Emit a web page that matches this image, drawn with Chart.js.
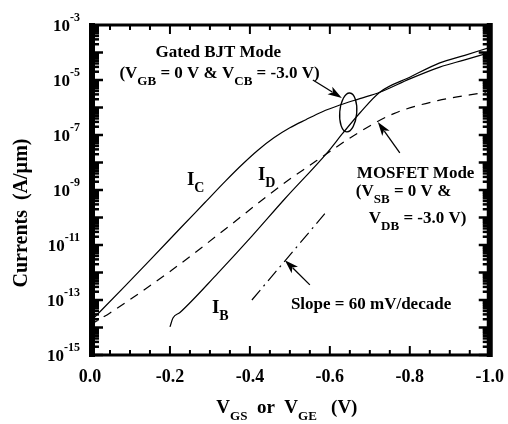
<!DOCTYPE html>
<html><head><meta charset="utf-8">
<script src="https://cdn.jsdelivr.net/npm/chart.js@4/dist/chart.umd.min.js"></script>
<style>html,body{margin:0;padding:0;background:#fff;}canvas{display:block;}</style>
</head><body>
<canvas id="c" width="508" height="424"></canvas>
<script>
// ---- data (V, A/um) ----
const vIC = [0, -0.0875, -0.15, -0.23, -0.2875, -0.34, -0.38, -0.42, -0.46, -0.50, -0.54, -0.58, -0.625, -0.675, -0.725, -0.8, -0.875, -0.9375, -0.995];
const iIC = [1.6e-14, 3.2e-13, 2.8e-12, 4.7e-11, 3.5e-10, 2.2e-9, 8.3e-9, 2.8e-8, 7.9e-8, 1.82e-7, 3.6e-7, 6.9e-7, 1.23e-6, 2.1e-6, 3.6e-6, 1.1e-5, 2.95e-5, 5.4e-5, 9.5e-5];
const vIB = [-0.2, -0.2075, -0.225, -0.32, -0.405, -0.4875, -0.5925, -0.6325, -0.675, -0.725, -0.8, -0.875, -0.9375, -0.995];
const iIB = [1.05e-14, 2.2e-14, 3.5e-14, 9.5e-13, 2.1e-11, 4.8e-10, 2.2e-8, 1.17e-7, 6.3e-7, 3.6e-6, 1.26e-5, 4.2e-5, 7.9e-5, 1.45e-4];
const vID = [0, -0.05, -0.205, -0.345, -0.445, -0.5, -0.55, -0.6, -0.6675, -0.76, -0.87, -0.99];
const iID = [1.23e-14, 3.4e-14, 1.23e-12, 4.5e-11, 6.3e-10, 2.5e-9, 7.9e-9, 2.5e-8, 1.12e-7, 6.0e-7, 1.78e-6, 3.55e-6];
const vSlope = [-0.405, -0.595];
const iSlope = [1.0e-13, 1.86e-10];
const xTickValues = [0, -0.2, -0.4, -0.6, -0.8, -1.0];
const xTickLabels = ['0.0', '-0.2', '-0.4', '-0.6', '-0.8', '-1.0'];
const yTickExps = [-3, -5, -7, -9, -11, -13, -15];

const FONT = '"Liberation Serif", "Times New Roman", serif';
const pts = (xs, ys) => xs.map((v, i) => ({x: v, y: ys[i]}));

function runsWidth(ctx, runs, size, sub) {
  let w = 0;
  for (const r of runs) { ctx.font = 'bold ' + (r.s ? sub : size) + 'px ' + FONT; w += ctx.measureText(r.t).width; }
  return w;
}
function drawRuns(ctx, runs, x, y, size, sub, align) {
  const w = runsWidth(ctx, runs, size, sub);
  let cx = align === 'center' ? x - w / 2 : x;
  ctx.textBaseline = 'alphabetic'; ctx.textAlign = 'left';
  for (const r of runs) {
    ctx.font = 'bold ' + (r.s ? sub : size) + 'px ' + FONT;
    ctx.fillText(r.t, cx, r.s ? y + 7 : y);
    cx += ctx.measureText(r.t).width;
  }
}
const T = t => ({t, s: false});
const S = t => ({t, s: true});

function arrow(ctx, x1, y1, x2, y2) {
  const ang = Math.atan2(y2 - y1, x2 - x1);
  const hl = 14, hw = 4.5;
  ctx.lineWidth = 1.3;
  ctx.beginPath(); ctx.moveTo(x1, y1);
  ctx.lineTo(x2 - Math.cos(ang) * hl * 0.8, y2 - Math.sin(ang) * hl * 0.8); ctx.stroke();
  ctx.beginPath();
  ctx.moveTo(x2, y2);
  ctx.lineTo(x2 - Math.cos(ang) * hl - Math.sin(ang) * hw, y2 - Math.sin(ang) * hl + Math.cos(ang) * hw);
  ctx.lineTo(x2 - Math.cos(ang) * hl * 0.75, y2 - Math.sin(ang) * hl * 0.75);
  ctx.lineTo(x2 - Math.cos(ang) * hl + Math.sin(ang) * hw, y2 - Math.sin(ang) * hl - Math.cos(ang) * hw);
  ctx.closePath(); ctx.fill();
}

const deco = {
  id: 'deco',
  afterDatasetsDraw(chart) {
    const {ctx, chartArea: a, scales: {x: xs, y: ys}} = chart;
    const px = v => xs.getPixelForValue(v);
    const py = L => ys.getPixelForValue(Math.pow(10, L));
    ctx.save();
    ctx.fillStyle = '#000'; ctx.strokeStyle = '#000';
    // frame
    ctx.fillRect(a.left - 1, a.top - 2, 6, a.bottom - a.top + 4);
    ctx.fillRect(a.right - 3, a.top - 2, 6, a.bottom - a.top + 4);
    ctx.lineWidth = 3;
    ctx.beginPath(); ctx.moveTo(a.left, a.top); ctx.lineTo(a.right, a.top); ctx.stroke();
    ctx.beginPath(); ctx.moveTo(a.left, a.bottom); ctx.lineTo(a.right, a.bottom); ctx.stroke();
    // x ticks
    ctx.lineWidth = 2;
    for (let k = 1; k < 20; k++) {
      const x = px(-k * 0.05), len = (k % 4 === 0) ? 9 : 5;
      ctx.beginPath(); ctx.moveTo(x, a.bottom); ctx.lineTo(x, a.bottom - len); ctx.stroke();
      ctx.beginPath(); ctx.moveTo(x, a.top); ctx.lineTo(x, a.top + len); ctx.stroke();
    }
    // y ticks
    ctx.lineWidth = 2.5;
    for (let e = -15; e < -3; e++) {
      for (let m = 1; m <= 9; m++) {
        const y = ys.getPixelForValue(m * Math.pow(10, e));
        const len = m === 1 ? 9 : 5;
        ctx.beginPath(); ctx.moveTo(a.left + 4, y); ctx.lineTo(a.left + 4 + len, y); ctx.stroke();
        ctx.beginPath(); ctx.moveTo(a.right - 2, y); ctx.lineTo(a.right - 2 - len, y); ctx.stroke();
      }
    }
    // y tick labels
    ctx.textAlign = 'right';
    for (const e of yTickExps) {
      const y = py(e);
      ctx.font = 'bold 12px ' + FONT;
      const es = String(e);
      const ew = ctx.measureText(es).width;
      ctx.textBaseline = 'alphabetic';
      ctx.fillText(es, a.left - 10, y - 4);
      ctx.font = 'bold 17px ' + FONT;
      ctx.fillText('10', a.left - 10 - ew, y + 6);
    }
    // axis titles
    drawRuns(ctx, [T('V'), S('GS'), T('  or  '), T('V'), S('GE'), T('   (V)')], (a.left + a.right) / 2 - 3, a.bottom + 58, 19, 13, 'center');
    ctx.save();
    ctx.translate(a.left - 68, (a.top + a.bottom) / 2 + 23);
    ctx.rotate(-Math.PI / 2);
    ctx.font = 'bold 20px ' + FONT; ctx.textAlign = 'center'; ctx.textBaseline = 'middle';
    ctx.fillText('Currents  (A/\u00b5m)', 0, 0);
    ctx.restore();
    // annotations (anchored in data coordinates)
    drawRuns(ctx, [T('Gated BJT Mode')], px(-0.321), py(-4.16), 17, 13, 'center');
    drawRuns(ctx, [T('(V'), S('GB'), T(' = 0 V & V'), S('CB'), T(' = -3.0 V)')], px(-0.324), py(-4.93), 17, 13, 'center');
    drawRuns(ctx, [T('MOSFET Mode')], px(-0.6675), py(-8.56), 17, 13, 'left');
    drawRuns(ctx, [T('(V'), S('SB'), T(' = 0 V &')], px(-0.665), py(-9.2), 17, 13, 'left');
    drawRuns(ctx, [T('V'), S('DB'), T(' = -3.0 V)')], px(-0.6975), py(-10.2), 17, 13, 'left');
    drawRuns(ctx, [T('Slope = 60 mV/decade')], px(-0.5025), py(-13.33), 17, 13, 'left');
    drawRuns(ctx, [T('I'), S('C')], px(-0.2425), py(-8.82), 19, 14, 'left');
    drawRuns(ctx, [T('I'), S('D')], px(-0.42), py(-8.64), 19, 14, 'left');
    drawRuns(ctx, [T('I'), S('B')], px(-0.305), py(-13.47), 19, 14, 'left');
    // ellipse + arrows
    ctx.lineWidth = 1.3;
    ctx.beginPath(); ctx.ellipse(px(-0.646), py(-6.18), 8.5, 19.5, 0.08, 0, Math.PI * 2); ctx.stroke();
    arrow(ctx, px(-0.5575), py(-5.0), px(-0.63), py(-5.65));
    arrow(ctx, px(-0.775), py(-7.65), px(-0.72), py(-6.53));
    arrow(ctx, px(-0.55), py(-12.45), px(-0.4875), py(-11.55));
    ctx.restore();
  }
};

const base = {borderColor: '#000', borderWidth: 1.2, pointRadius: 0, fill: false, cubicInterpolationMode: 'monotone'};
new Chart(document.getElementById('c'), {
  type: 'line',
  data: {datasets: [
    Object.assign({label: 'IC', data: pts(vIC, iIC)}, base),
    Object.assign({label: 'IB', data: pts(vIB, iIB)}, base),
    Object.assign({label: 'ID', data: pts(vID, iID), borderDash: [9, 7]}, base),
    Object.assign({label: 'slope', data: pts(vSlope, iSlope), borderDash: [13, 5, 2, 5]}, base)
  ]},
  options: {
    responsive: false, animation: false, events: [],
    layout: {padding: {left: 0, top: 25, right: 18, bottom: 0}},
    plugins: {legend: {display: false}, tooltip: {enabled: false}},
    scales: {
      x: {type: 'linear', min: -1, max: 0, reverse: true,
        afterFit: s => { s.height = 69; },
        afterBuildTicks: s => { s.ticks = xTickValues.map(v => ({value: v})); },
        ticks: {color: '#000', padding: 4, maxRotation: 0, autoSkip: false,
          font: {family: FONT, size: 18, weight: 'bold'},
          callback: (v, i) => xTickLabels[i]},
        grid: {display: false}, border: {display: false}},
      y: {type: 'logarithmic', min: 1e-15, max: 1e-3,
        afterFit: s => { s.width = 90; },
        ticks: {display: false}, grid: {display: false}, border: {display: false}}
    }
  },
  plugins: [deco]
});
</script>
</body></html>
